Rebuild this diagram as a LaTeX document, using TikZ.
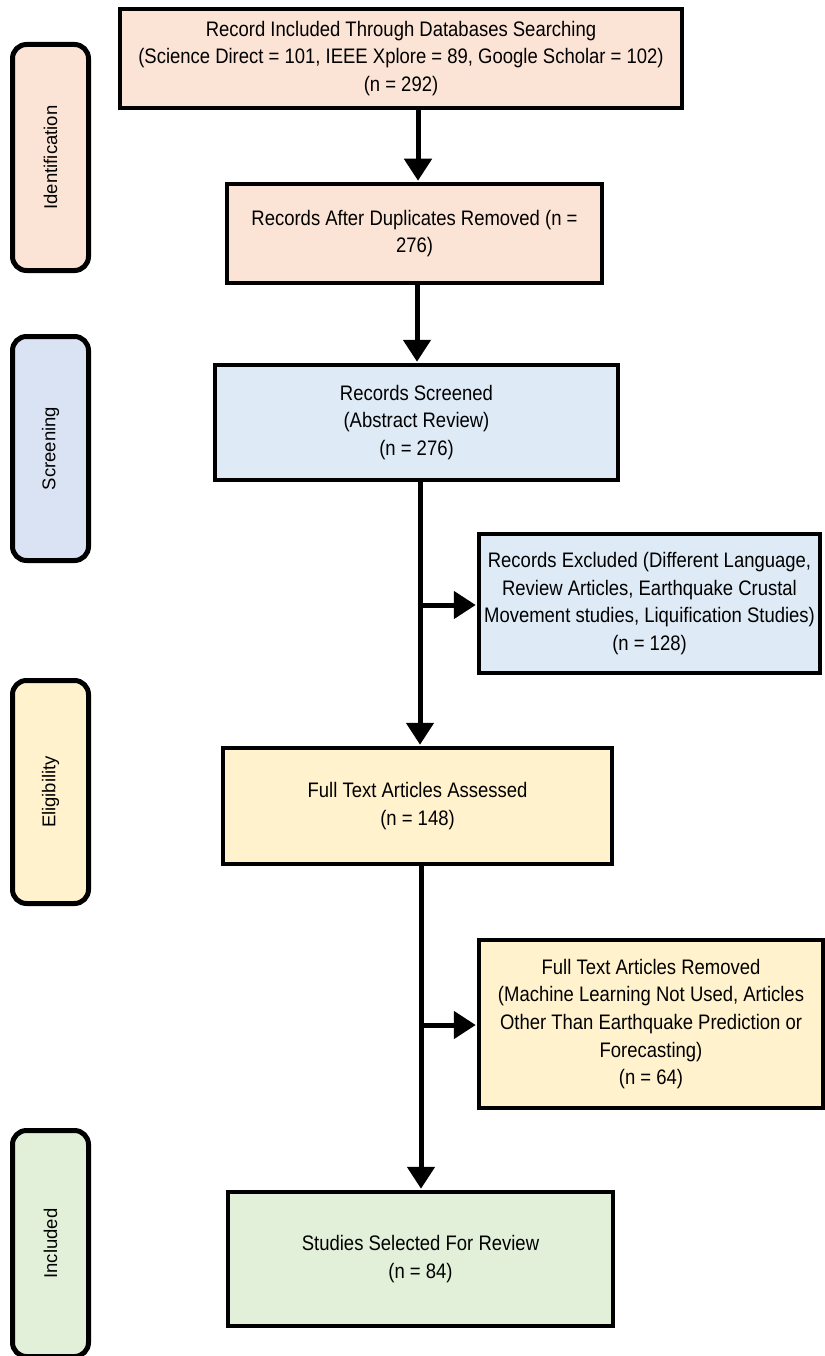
\documentclass[tikz,border=0pt]{standalone}
\usepackage{fontspec}
\setmainfont{Liberation Sans}
\newfontfamily\boxfont[FakeStretch=0.88]{Liberation Sans}
\usetikzlibrary{arrows.meta}
\definecolor{cpeach}{HTML}{FBE4D5}
\definecolor{cblue}{HTML}{DEEAF6}
\definecolor{csblue}{HTML}{DAE3F3}
\definecolor{cyellow}{HTML}{FFF2CC}
\definecolor{cgreen}{HTML}{E2EFD9}
\begin{document}
\begin{tikzpicture}[x=1pt,y=-1pt,
  box/.style={draw, line width=4.5pt, rectangle, align=center, inner sep=0pt,
    font=\boxfont\fontsize{21}{27.7}\selectfont},
  sidebox/.style={draw, line width=5pt, rounded corners=14pt, inner sep=0pt,
    minimum width=76pt, font=\fontsize{18.3}{22}\selectfont},
  sidetext/.style={rotate=90, font=\fontsize{18.5}{22}\selectfont},
  arr/.style={line width=5pt, -{Triangle[length=22pt,width=27pt]}, shorten >=1pt},
  ln/.style={line width=5pt}]
\useasboundingbox (0,0) rectangle (824,1356);
% side labels
\node[sidebox, fill=cpeach, minimum height=226pt] (s1) at (50.5,157.5) {};
\node[sidetext] (t1) at (s1.center) {Identification};
\node[sidebox, fill=csblue, minimum height=224pt] (s2) at (50.5,448.5) {};
\node[sidetext] (t2) at (s2.center) {Screening};
\node[sidebox, fill=cyellow, minimum height=223pt] (s3) at (50.5,792) {};
\node[sidetext] (t3) at (s3.center) {Eligibility};
\node[sidebox, fill=cgreen, minimum height=226pt] (s4) at (50.5,1243.5) {};
\node[sidetext] (t4) at (s4.center) {Included};
% main boxes
\node[box, fill=cpeach, minimum width=562pt, minimum height=99pt] (b1) at (401,58.5)
  {Record Included Through Databases Searching\\(Science Direct = 101, IEEE Xplore = 89, Google Scholar = 102)\\(n = 292)};
\node[box, fill=cpeach, minimum width=375pt, minimum height=99pt] (b2) at (414.5,233.5)
  {Records After Duplicates Removed (n =\\276)};
\node[box, fill=cblue, minimum width=403pt, minimum height=115pt] (b3) at (416.5,422.5)
  {Records Screened\\(Abstract Review)\\(n = 276)};
\node[box, fill=cblue, minimum width=341pt, minimum height=139pt] (b4) at (649.5,603.5)
  {Records Excluded (Different Language,\\Review Articles, Earthquake Crustal\\Movement studies, Liquification Studies)\\(n = 128)};
\node[box, fill=cyellow, minimum width=389pt, minimum height=116pt] (b5) at (417.5,806)
  {Full Text Articles Assessed\\(n = 148)};
\node[box, fill=cyellow, minimum width=344pt, minimum height=168pt] (b6) at (651,1024)
  {Full Text Articles Removed\\(Machine Learning Not Used, Articles\\Other Than Earthquake Prediction or\\Forecasting)\\(n = 64)};
\node[box, fill=cgreen, minimum width=385pt, minimum height=134pt] (b7) at (420.5,1259)
  {Studies Selected For Review\\(n = 84)};
% connector guides
\coordinate (v1) at (418,0);
\coordinate (v2) at (417,0);
\coordinate (v3) at (420,0);
\coordinate (v4) at (421,0);
\coordinate (j1) at (420,605);
\coordinate (j2) at (421,1025);
\draw[arr] (v1 |- b1.south) -- (v1 |- b2.north);
\draw[arr] (v2 |- b2.south) -- (v2 |- b3.north);
\draw[arr] (v3 |- b3.south) -- (v3 |- b5.north);
\draw[arr] (j1) -- (j1 -| b4.west);
\draw[arr] (v4 |- b5.south) -- (v4 |- b7.north);
\draw[arr] (j2) -- (j2 -| b6.west);
\end{tikzpicture}
\end{document}
